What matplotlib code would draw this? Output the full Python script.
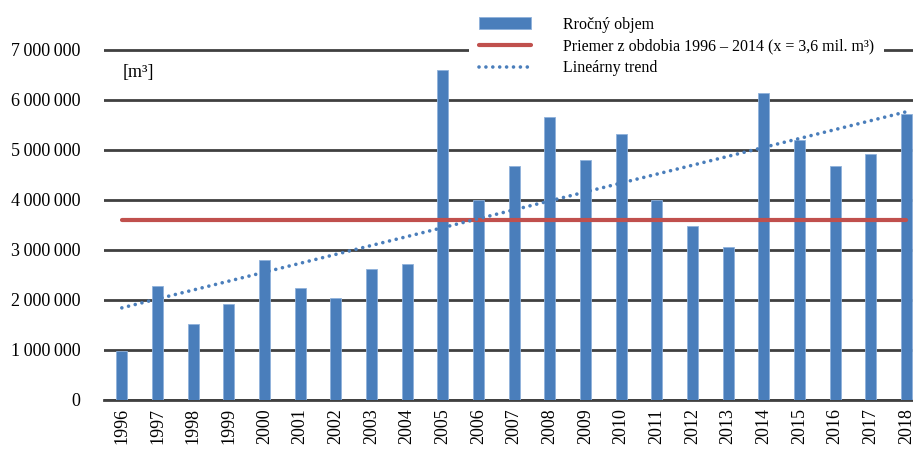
import numpy as np
import matplotlib
matplotlib.use("Agg")
import matplotlib.pyplot as plt

roky = ["1996", "1997", "1998", "1999", "2000", "2001", "2002", "2003", "2004", "2005", "2006",
        "2007", "2008", "2009", "2010", "2011", "2012", "2013", "2014", "2015", "2016", "2017", "2018"]
objem = [980000, 2280000, 1520000, 1920000, 2800000, 2240000, 2050000, 2630000, 2730000, 6600000, 4000000,
         4690000, 5670000, 4800000, 5330000, 4000000, 3480000, 3070000, 6150000, 5210000, 4690000, 4930000, 5720000]
priemer = 3600000
y_ticky = [0, 1000000, 2000000, 3000000, 4000000, 5000000, 6000000, 7000000]

plt.rcParams['font.family'] = ['Liberation Serif', 'DejaVu Serif']

modra = '#4A7EBB'
cervena = '#C0504D'
mriezka = '#404040'

fig = plt.figure(figsize=(9.13, 4.5), dpi=100)
W, H = 913, 450
# 1 mil. = 50 px, nula na y=400 px
ax = fig.add_axes([104 / W, 50 / H, (913 - 104) / W, 360 / H])

x = np.arange(len(roky))
bary = ax.bar(x, objem, width=0.31, color=modra, edgecolor='#8FB1DB', linewidth=0.6, zorder=3)

ciara, = ax.plot([x[0], x[-1]], [priemer, priemer], color=cervena, lw=3, solid_capstyle='round', zorder=4)

k, q = np.polyfit(x, objem, 1)
trend, = ax.plot(x, k * x + q, color=modra, lw=2.6, linestyle=(0, (0.01, 1.9)),
                 dash_capstyle='round', zorder=5)

ax.set_xlim(-0.5, (913 - 104) / 35.66 - 0.5)
ax.set_ylim(0, 7200000)
ax.set_yticks(y_ticky)
ax.set_yticklabels([f"{v:,}".replace(",", "\u2009") for v in y_ticky])
ax.set_xticks(x)
ax.set_xticklabels(roky, rotation=90)
ax.tick_params(axis='y', length=0, pad=17, labelsize=13)
ax.tick_params(axis='x', length=0, pad=6, labelsize=13)

ax.grid(axis='y', color=mriezka, lw=2, zorder=0)
ax.set_axisbelow(True)
for s in ['top', 'right', 'left']:
    ax.spines[s].set_visible(False)
ax.spines['bottom'].set_color(mriezka)
ax.spines['bottom'].set_linewidth(2)

ax.text(123 / W, 1 - 73 / H, "[m³]", transform=fig.transFigure, fontsize=13, va='center', ha='left')

leg = ax.legend([bary, ciara, trend],
                ["Rročný objem", "Priemer z obdobia 1996 – 2014 (x = 3,6 mil. m³)", "Lineárny trend"],
                loc='upper left', bbox_to_anchor=(469 / W, 1 - 7 / H), bbox_transform=fig.transFigure,
                fontsize=11.5, frameon=True, facecolor='white', edgecolor='none', framealpha=1,
                fancybox=False, handlelength=3.3, handletextpad=2.0, labelspacing=0.37,
                borderpad=0.6, borderaxespad=0)
leg.set_zorder(10)

fig.savefig("out.png", dpi=100)
